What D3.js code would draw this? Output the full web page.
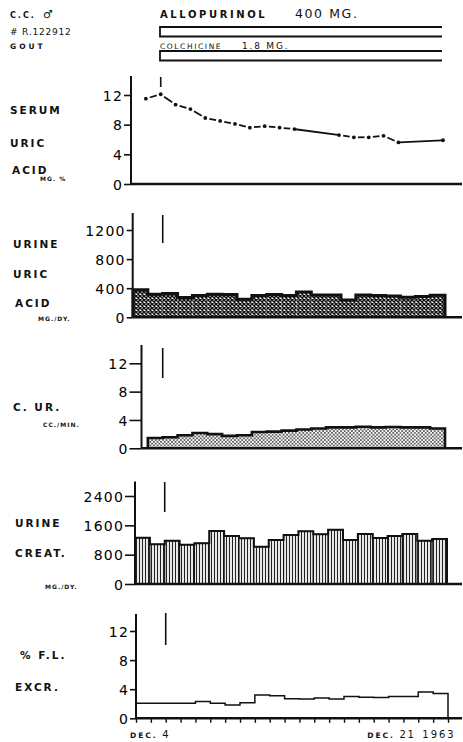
<!DOCTYPE html>
<meta charset="utf-8">
<style type="text/css">
body { margin: 0; background: #fff; }
svg { display: block; font-family: "DejaVu Sans", sans-serif; }
/* row labels on the left */
.lab { font-weight: bold; font-size: 10.5px; letter-spacing: 2px; fill: #111; }
.unit { font-weight: bold; font-size: 6px; letter-spacing: 1px; fill: #111; }
.yax text { font-size: 14px; letter-spacing: 1.2px; fill: #000; }
.yax line { stroke: #111; stroke-width: 1.6px; }
.xax line { stroke: #111; stroke-width: 1.4px; }
</style>
<body>
</body>
<title>Allopurinol - gout</title>

<script src="https://cdn.jsdelivr.net/npm/d3@7/dist/d3.min.js"></script>
<script>

// days of December 1963 marked on the x axis
var days = [2, 3, 4, 5, 6, 7, 8, 9, 10, 11, 12, 13, 14, 15, 16, 17, 18, 19, 20, 21, 22, 23];
var markerDay = 4;

// serum uric acid, mg %  (no samples on the 14th, 15th, 21st, 22nd)
var serumDays = [3, 4, 5, 6, 7, 8, 9, 10, 11, 12, 13, 16, 17, 18, 19, 20, 23];
var serumUric = [11.5, 12.1, 10.7, 10.1, 8.9, 8.5, 8.1, 7.6, 7.8, 7.6, 7.4, 6.6, 6.3, 6.3, 6.5, 5.6, 5.9];

// 24h collections, one bar per day (start day)
var barDays = [2, 3, 4, 5, 6, 7, 8, 9, 10, 11, 12, 13, 14, 15, 16, 17, 18, 19, 20, 21, 22];
var urineUric = [377, 317, 326, 271, 299, 317, 313, 248, 299, 313, 299, 349, 308, 308, 239, 308, 299, 294, 276, 285, 303];
var urineCreat = [1264, 1082, 1182, 1073, 1109, 1445, 1309, 1245, 1018, 1200, 1336, 1436, 1355, 1482, 1200, 1364, 1255, 1309, 1364, 1182, 1227];
var flExcr = [2.06, 2.06, 2.06, 2.06, 2.3, 2.06, 1.83, 2.15, 3.2, 3.1, 2.7, 2.65, 2.8, 2.65, 3.0, 2.9, 2.85, 3.0, 3.0, 3.6, 3.4];

// uric acid clearance, cc/min (starts on the 3rd)
var curDays = [3, 4, 5, 6, 7, 8, 9, 10, 11, 12, 13, 14, 15, 16, 17, 18, 19, 20, 21, 22];
var clearance = [1.45, 1.55, 1.85, 2.15, 2.0, 1.75, 1.85, 2.3, 2.35, 2.5, 2.65, 2.8, 2.95, 2.95, 3.05, 2.95, 3.0, 2.95, 2.95, 2.8];

var W = 463, H = 742;

var svg = d3.select("body").append("svg")
    .attr("width", W)
    .attr("height", H);

svg.append("rect").attr("width", W).attr("height", H).attr("fill", "#fff");

// fill patterns for the bars
var defs = svg.append("defs");

var pCross = defs.append("pattern").attr("id", "cross")
    .attr("width", 4).attr("height", 4).attr("patternUnits", "userSpaceOnUse");
pCross.append("rect").attr("width", 4).attr("height", 4).attr("fill", "#fff");
pCross.append("path").attr("d", "M0,0L4,4M4,0L0,4").attr("stroke", "#111").attr("stroke-width", 1.5);

var pDots = defs.append("pattern").attr("id", "dots")
    .attr("width", 3.6).attr("height", 3.6).attr("patternUnits", "userSpaceOnUse");
pDots.append("rect").attr("width", 3.6).attr("height", 3.6).attr("fill", "#fff");
pDots.append("circle").attr("cx", 0.9).attr("cy", 0.9).attr("r", 0.8).attr("fill", "#111");
pDots.append("circle").attr("cx", 2.7).attr("cy", 2.7).attr("r", 0.8).attr("fill", "#111");

var pV = defs.append("pattern").attr("id", "vlines")
    .attr("width", 3).attr("height", 4).attr("patternUnits", "userSpaceOnUse");
pV.append("rect").attr("width", 3).attr("height", 4).attr("fill", "#fff");
pV.append("rect").attr("x", 0.9).attr("width", 1.2).attr("height", 4).attr("fill", "#222");

// shared time scale (the scanned panels sit a few pixels apart, hence dx)
var x = d3.scaleLinear().domain([2, 23]).range([136, 448]);

// ---------- header ----------
var hd = svg.append("g").attr("fill", "#111");
hd.append("text").attr("x", 10).attr("y", 18)
    .style("font-size", "8px").style("font-weight", "bold").style("letter-spacing", "2px")
    .text("C.C.");
hd.append("text").attr("x", 43).attr("y", 18)
    .style("font-size", "11px").style("font-weight", "bold")
    .text("\u2642");
hd.append("text").attr("x", 10).attr("y", 35)
    .style("font-size", "9px").style("letter-spacing", "0.8px")
    .text("# R.122912");
hd.append("text").attr("x", 10).attr("y", 49)
    .style("font-size", "7.5px").style("font-weight", "bold").style("letter-spacing", "3px")
    .text("GOUT");

hd.append("text").attr("x", 160).attr("y", 18)
    .style("font-size", "10px").style("font-weight", "bold").style("letter-spacing", "2.6px")
    .text("ALLOPURINOL");
hd.append("text").attr("x", 295).attr("y", 18)
    .style("font-size", "12.5px").style("letter-spacing", "1.6px")
    .text("400 MG.");
hd.append("text").attr("x", 160).attr("y", 48.5)
    .style("font-size", "7.5px").style("letter-spacing", "1.6px")
    .text("COLCHICINE");
hd.append("text").attr("x", 242).attr("y", 48.5)
    .style("font-size", "9px").style("letter-spacing", "1.8px")
    .text("1.8 MG.");

// drug bars, open on the right
[[27, 36.5], [51, 60.5]].forEach(function(b) {
    svg.append("path")
        .attr("d", "M442," + b[0] + "H160V" + b[1] + "H442")
        .attr("fill", "none").attr("stroke", "#111").attr("stroke-width", 1.8);
});

// ---------- panels ----------
var panels = [
    {axisX: 131, dx: -5, base: 184, topPx: 95, max: 12, axisTop: 76, ticks: [0, 4, 8, 12], gap: 7, mark: [77, 87],
     labels: [["SERUM", 10, 113.5], ["URIC", 10, 146.5], ["ACID", 12, 173.5]], unit: ["MG. %", 40, 181]},
    {axisX: 132.7, dx: -3, base: 317.3, topPx: 230, max: 1200, axisTop: 213, ticks: [0, 400, 800, 1200], gap: 6, mark: [215, 243],
     labels: [["URINE", 13, 247.5], ["URIC", 13, 277.5], ["ACID", 15, 307]], unit: ["MG./DY.", 38, 320.5]},
    {axisX: 141.5, dx: -3, base: 448.3, topPx: 363.3, max: 12, axisTop: 345, ticks: [0, 4, 8, 12], gap: 12, mark: [348, 378],
     labels: [["C. UR.", 13, 411]], unit: ["CC./MIN.", 43, 426.5]},
    {axisX: 135, dx: -1, base: 584, topPx: 496, max: 2400, axisTop: 481.5, ticks: [0, 800, 1600, 2400], gap: 10, mark: [482, 512],
     labels: [["URINE", 15, 527], ["CREAT.", 15, 556.5]], unit: ["MG./DY.", 45, 588.5]},
    {axisX: 136, dx: 0, base: 718.3, topPx: 631, max: 12, axisTop: 614, ticks: [0, 4, 8, 12], gap: 6, mark: [613, 645],
     labels: [["% F.L.", 20, 658.5], ["EXCR.", 15, 691]], unit: null}
];

panels.forEach(function(p) {
    p.y = d3.scaleLinear().domain([0, p.max]).range([p.base, p.topPx]);
    p.px = function(d) { return x(d) + p.dx; };
    p.g = svg.append("g");

    // left labels
    p.labels.forEach(function(l) {
        p.g.append("text").attr("class", "lab").attr("x", l[1]).attr("y", l[2]).text(l[0]);
    });
    if (p.unit)
        p.g.append("text").attr("class", "unit").attr("x", p.unit[1]).attr("y", p.unit[2]).text(p.unit[0]);

    // y axis
    var ax = p.g.append("g").attr("class", "yax")
        .attr("transform", "translate(" + p.axisX + ",0)")
        .call(d3.axisLeft(p.y).tickValues(p.ticks).tickSize(p.gap).tickPadding(1).tickFormat(d3.format("d")));
    ax.select(".domain").remove();
    ax.selectAll("text").attr("dy", "0.36em").style("font-family", "DejaVu Sans");

    p.g.append("line")
        .attr("x1", p.axisX).attr("x2", p.axisX)
        .attr("y1", p.axisTop).attr("y2", p.base)
        .attr("stroke", "#111").attr("stroke-width", 2);

    // Dec 4 marker
    p.g.append("line")
        .attr("x1", p.px(markerDay)).attr("x2", p.px(markerDay))
        .attr("y1", p.mark[0]).attr("y2", p.mark[1])
        .attr("stroke", "#111").attr("stroke-width", 1.6);
});

// outline of a run of daily bars
function stepOutline(p, ds, vs, closeLeft) {
    var pts = [];
    if (closeLeft) pts.push([ds[0], 0]);
    ds.forEach(function(d, i) { pts.push([d, vs[i]]); });
    var last = ds[ds.length - 1] + 1;
    pts.push([last, vs[vs.length - 1]]);
    pts.push([last, 0]);
    return d3.line()
        .x(function(d) { return p.px(d[0]); })
        .y(function(d) { return p.y(d[1]); })
        .curve(d3.curveStepAfter)(pts);
}

function bars(p, ds, vs, fill, sep, outlineW) {
    p.g.selectAll(".bar").data(ds).enter().append("rect")
        .attr("class", "bar")
        .attr("x", function(d) { return p.px(d); })
        .attr("width", function(d) { return p.px(d + 1) - p.px(d); })
        .attr("y", function(d, i) { return p.y(vs[i]); })
        .attr("height", function(d, i) { return p.base - p.y(vs[i]); })
        .attr("fill", fill)
        .attr("stroke", sep ? "#111" : "none")
        .attr("stroke-width", sep ? 1.1 : 0);
    p.g.append("path")
        .attr("d", stepOutline(p, ds, vs, true))
        .attr("fill", "none").attr("stroke", "#111")
        .attr("stroke-width", outlineW).attr("stroke-linejoin", "miter");
}

// panel 1 : serum uric acid, dash-dot line
(function() {
    var p = panels[0];
    var pts = serumDays.map(function(d, i) { return [p.px(d), p.y(serumUric[i])]; });
    for (var i = 0; i < pts.length - 1; i++) {
        var a = pts[i], b = pts[i + 1];
        var ddx = b[0] - a[0], ddy = b[1] - a[1], len = Math.sqrt(ddx * ddx + ddy * ddy);
        // adjacent days: short dash with gaps round the dots; missing days: solid line
        var cut = (serumDays[i + 1] - serumDays[i] == 1) ? 4.2 : 1;
        p.g.append("line")
            .attr("x1", a[0] + ddx * cut / len).attr("y1", a[1] + ddy * cut / len)
            .attr("x2", b[0] - ddx * cut / len).attr("y2", b[1] - ddy * cut / len)
            .attr("stroke", "#111").attr("stroke-width", 1.8);
    }
    p.g.selectAll(".dot").data(pts).enter().append("circle")
        .attr("class", "dot")
        .attr("cx", function(d) { return d[0]; })
        .attr("cy", function(d) { return d[1]; })
        .attr("r", 1.9).attr("fill", "#111");
})();

bars(panels[1], barDays, urineUric, "url(#cross)", false, 3);
bars(panels[2], curDays, clearance, "url(#dots)", false, 2.6);
bars(panels[3], barDays, urineCreat, "url(#vlines)", true, 2);

// panel 5 : % filtered load excreted, plain step line
(function() {
    var p = panels[4];
    p.g.append("path")
        .attr("d", stepOutline(p, barDays, flExcr, false))
        .attr("fill", "none").attr("stroke", "#111").attr("stroke-width", 1.5);

    // day ticks under the axis
    var xa = p.g.append("g").attr("class", "xax")
        .attr("transform", "translate(0," + p.base + ")")
        .call(d3.axisBottom(d3.scaleLinear().domain(x.domain()).range(x.range().map(function(r) { return r + p.dx; })))
            .tickValues(days).tickSize(4.5).tickFormat(""));
    xa.select(".domain").remove();

    var lab = p.g.append("g").attr("fill", "#111");
    var t1 = lab.append("text").attr("x", p.px(4) + 3).attr("y", 738).attr("text-anchor", "end");
    t1.append("tspan").style("font-size", "7.5px").style("font-weight", "bold").style("letter-spacing", "2px").text("DEC. ");
    t1.append("tspan").style("font-size", "10px").text("4");
    var t2 = lab.append("text").attr("x", p.px(21) - 3).attr("y", 738).attr("text-anchor", "end");
    t2.append("tspan").style("font-size", "7.5px").style("font-weight", "bold").style("letter-spacing", "2px").text("DEC. ");
    t2.append("tspan").style("font-size", "10px").style("letter-spacing", "1.5px").text("21");
    lab.append("text").attr("x", p.px(21) + 4).attr("y", 738)
        .style("font-size", "10px").style("letter-spacing", "2px").text("1963");
})();

// baselines drawn last so they sit on top of the bars
panels.forEach(function(p) {
    p.g.append("line")
        .attr("x1", p.axisX).attr("x2", 462)
        .attr("y1", p.base).attr("y2", p.base)
        .attr("stroke", "#111").attr("stroke-width", 2.4);
});

</script>
